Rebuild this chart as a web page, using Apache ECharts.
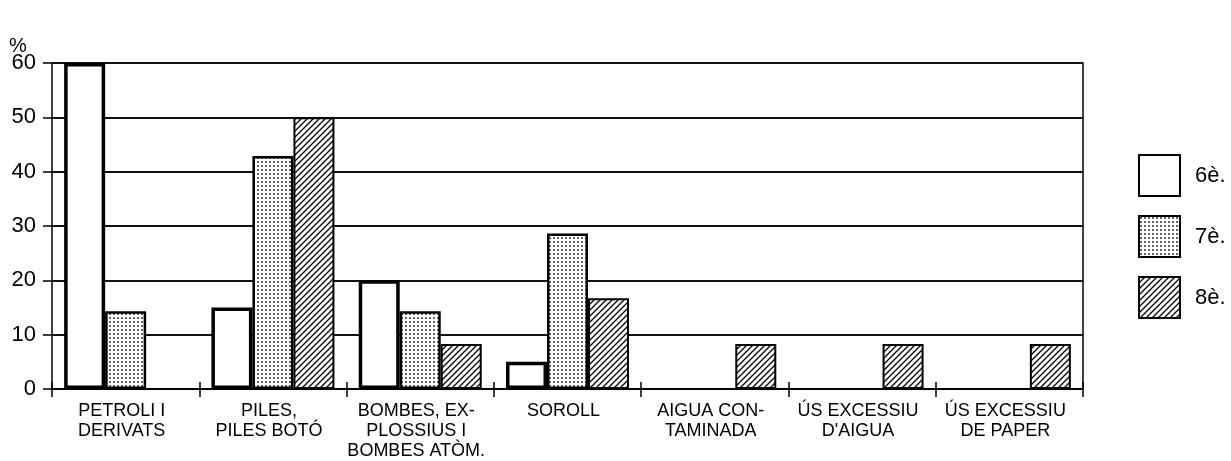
<!DOCTYPE html>
<html>
<head>
<meta charset="utf-8">
<script src="https://cdn.jsdelivr.net/npm/echarts@6/dist/echarts.min.js"></script>
<style>
html,body{margin:0;padding:0;background:#fff;}
#c{width:1231px;height:461px;}
</style>
</head>
<body>
<div id="c"></div>
<script>
const categories = [
  "PETROLI I\nDERIVATS",
  "PILES,\nPILES BOTÓ",
  "BOMBES, EX-\nPLOSSIUS I\nBOMBES ATÒM.",
  "SOROLL",
  "AIGUA CON-\nTAMINADA",
  "ÚS EXCESSIU\nD'AIGUA",
  "ÚS EXCESSIU\nDE PAPER"
];
const seriesNames = ["6è.", "7è.", "8è."];
const values6 = [60, 15, 20, 5, 0, 0, 0];
const values7 = [14.3, 42.9, 14.3, 28.6, 0, 0, 0];
const values8 = [0, 50, 8.3, 16.7, 8.3, 8.3, 8.3];
const yTicks = [0, 10, 20, 30, 40, 50, 60];

function dotPattern() {
  const c = document.createElement('canvas');
  c.width = 4; c.height = 4;
  const g = c.getContext('2d');
  g.fillStyle = '#fff'; g.fillRect(0, 0, 4, 4);
  g.fillStyle = '#222';
  g.beginPath(); g.arc(2, 2, 0.95, 0, Math.PI * 2); g.fill();
  return c;
}
function hatchPattern() {
  const s = 6;
  const c = document.createElement('canvas');
  c.width = s; c.height = s;
  const g = c.getContext('2d');
  g.fillStyle = '#fff'; g.fillRect(0, 0, s, s);
  g.strokeStyle = '#000'; g.lineWidth = 1.3;
  g.beginPath();
  g.moveTo(-1, s + 1); g.lineTo(s + 1, -1);
  g.moveTo(-1, 1); g.lineTo(1, -1);
  g.moveTo(s - 1, s + 1); g.lineTo(s + 1, s - 1);
  g.stroke();
  return c;
}

const chart = echarts.init(document.getElementById('c'), null, {renderer: 'canvas'});
const font = 'Liberation Sans, Arial, sans-serif';
const toData = arr => arr.map(v => v === 0 ? null : v);

const option = {
  backgroundColor: '#fff',
  animation: false,
  title: {
    text: '%', left: 9, top: 36, padding: 0,
    textStyle: {fontFamily: font, fontSize: 20, fontWeight: 'normal', color: '#000'}
  },
  legend: {
    orient: 'vertical', left: 1138, top: 154, padding: 0,
    itemWidth: 41, itemHeight: 41, itemGap: 18,
    icon: 'rect',
    data: seriesNames,
    textStyle: {fontFamily: font, fontSize: 22, color: '#000', padding: [0, 0, 0, 10]}
  },
  grid: {left: 52, right: 148, top: 63, bottom: 70, containLabel: false},
  xAxis: [{
    type: 'category', data: categories,
    axisLine: {show: true, lineStyle: {color: '#000', width: 2}},
    axisTick: {show: true, alignWithLabel: false, interval: 0, length: 8, lineStyle: {color: '#000', width: 1.5}},
    axisLabel: {interval: 0, margin: 12, fontFamily: font, fontSize: 18, color: '#000', lineHeight: 20,
      align: 'center', padding: [0, 8, 0, 0]}
  }, {
    type: 'category', data: categories, position: 'bottom',
    axisLine: {show: false},
    axisTick: {show: true, inside: true, interval: 0, length: 7, lineStyle: {color: '#000', width: 1.5}},
    axisLabel: {show: false}
  }],
  yAxis: [{
    type: 'value', min: 0, max: 60, interval: 10,
    axisLine: {show: true, lineStyle: {color: '#000', width: 1.5}},
    axisTick: {show: true, length: 9, lineStyle: {color: '#000', width: 1.5}},
    axisLabel: {margin: 16, fontFamily: font, fontSize: 22, color: '#000',
      formatter: v => yTicks.includes(v) ? String(v) : ''},
    splitLine: {show: true, lineStyle: {color: '#111', width: 1.8}}
  }, {
    type: 'value', min: 0, max: 60, interval: 10, position: 'right',
    axisLine: {show: true, lineStyle: {color: '#000', width: 1.5}},
    axisTick: {show: false}, axisLabel: {show: false}, splitLine: {show: false}
  }],
  series: [{
    name: seriesNames[0], type: 'bar', data: toData(values6),
    barWidth: 41, barGap: '0%',
    itemStyle: {color: '#fff', borderColor: '#000', borderWidth: 3.5}
  }, {
    name: seriesNames[1], type: 'bar', data: toData(values7),
    barWidth: 41, barGap: '0%',
    itemStyle: {color: {image: dotPattern(), repeat: 'repeat'}, borderColor: '#000', borderWidth: 2.5}
  }, {
    name: seriesNames[2], type: 'bar', data: toData(values8),
    barWidth: 41, barGap: '0%',
    itemStyle: {color: {image: hatchPattern(), repeat: 'repeat'}, borderColor: '#000', borderWidth: 2}
  }]
};
chart.setOption(option);
</script>
</body>
</html>
